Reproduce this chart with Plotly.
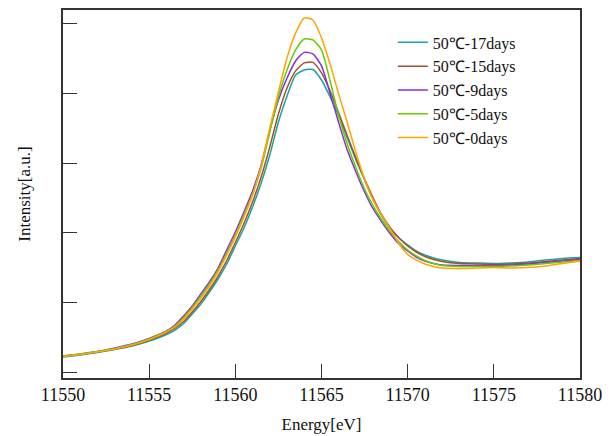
import plotly.graph_objects as go

energy = [11550, 11551, 11552, 11553, 11554, 11554.5, 11555, 11555.5, 11556,
          11556.5, 11557, 11557.5, 11558, 11558.5, 11559, 11559.5, 11560,
          11560.5, 11561, 11561.5, 11562, 11562.5, 11563, 11563.5, 11564,
          11564.5, 11565, 11565.5, 11566, 11566.5, 11567, 11567.5, 11568,
          11568.5, 11569, 11569.5, 11570, 11570.5, 11571, 11571.5,
          11572, 11573, 11574, 11575, 11576, 11577, 11578, 11579, 11580]

days17 = [0.216, 0.244, 0.280, 0.323, 0.374, 0.407, 0.445, 0.489, 0.539,
          0.603, 0.697, 0.833, 0.977, 1.149, 1.336, 1.552, 1.810,
          2.069, 2.371, 2.716, 3.118, 3.592, 3.966, 4.267, 4.339,
          4.346, 4.195, 3.951, 3.678, 3.362, 3.046, 2.759, 2.471,
          2.241, 2.055, 1.925, 1.825, 1.739, 1.681, 1.638,
          1.609, 1.573, 1.566, 1.559, 1.566, 1.580, 1.609, 1.631, 1.645]

days15 = [0.223, 0.251, 0.287, 0.330, 0.381, 0.417, 0.460, 0.507, 0.560,
          0.632, 0.726, 0.862, 1.013, 1.185, 1.379, 1.602, 1.861,
          2.134, 2.443, 2.802, 3.233, 3.707, 4.080, 4.325, 4.440,
          4.447, 4.296, 4.037, 3.721, 3.391, 3.075, 2.773, 2.500,
          2.256, 2.069, 1.925, 1.810, 1.724, 1.659, 1.616,
          1.588, 1.559, 1.552, 1.545, 1.552, 1.566, 1.588, 1.609, 1.631]

days9 = [0.230, 0.259, 0.295, 0.345, 0.402, 0.439, 0.481, 0.531, 0.589,
         0.675, 0.805, 0.948, 1.121, 1.293, 1.494, 1.753, 2.011,
         2.299, 2.601, 2.974, 3.477, 3.908, 4.224, 4.468, 4.591,
         4.569, 4.397, 4.000, 3.580, 3.185, 2.874, 2.586, 2.342,
         2.155, 1.983, 1.839, 1.739, 1.652, 1.595, 1.559,
         1.537, 1.530, 1.530, 1.530, 1.537, 1.552, 1.573, 1.595, 1.616]

days5 = [0.230, 0.259, 0.295, 0.338, 0.395, 0.432, 0.474, 0.524, 0.582,
         0.661, 0.783, 0.927, 1.092, 1.264, 1.466, 1.710, 1.968,
         2.256, 2.557, 2.931, 3.448, 3.951, 4.339, 4.626, 4.784,
         4.770, 4.626, 4.180, 3.680, 3.270, 2.930, 2.629, 2.385,
         2.184, 2.011, 1.868, 1.753, 1.667, 1.602, 1.559,
         1.530, 1.516, 1.516, 1.516, 1.523, 1.537, 1.559, 1.580, 1.602]

days0 = [0.223, 0.251, 0.287, 0.330, 0.388, 0.425, 0.467, 0.517, 0.575,
         0.647, 0.761, 0.905, 1.063, 1.236, 1.437, 1.681, 1.940,
         2.227, 2.543, 2.960, 3.506, 4.023, 4.511, 4.871, 5.086,
         5.057, 4.800, 4.420, 3.990, 3.580, 3.150, 2.770, 2.470,
         2.250, 2.050, 1.840, 1.690, 1.610, 1.552, 1.516,
         1.494, 1.487, 1.494, 1.501, 1.494, 1.501, 1.523, 1.559, 1.595]

series_names = ["50℃-17days", "50℃-15days", "50℃-9days", "50℃-5days", "50℃-0days"]
series_values = [days17, days15, days9, days5, days0]
series_colors = ["#1AA3A3", "#A0522D", "#8A2BE2", "#66CC00", "#FFA500"]

x_ticks = [11550, 11555, 11560, 11565, 11570, 11575, 11580]
y_ticks = [0, 1, 2, 3, 4, 5]

SERIF = "Liberation Serif"

fig = go.Figure()
for name, vals, col in zip(series_names, series_values, series_colors):
    fig.add_trace(go.Scatter(x=energy, y=vals, mode="lines", name=name,
                             line=dict(color=col, width=1.5, shape="spline", smoothing=0.6)))

# page has an 8px body margin, so the figure is sized to the visible area
fig.update_layout(
    width=608, height=428,
    margin=dict(l=55, r=36, t=2, b=58, autoexpand=False),
    paper_bgcolor="white", plot_bgcolor="white",
    font=dict(family=SERIF, size=17, color="#111"),
    legend=dict(x=0.638, y=0.958, xanchor="left", yanchor="top",
                bgcolor="rgba(0,0,0,0)", borderwidth=0,
                font=dict(family=SERIF, size=16, color="#111"),
                tracegroupgap=0, itemwidth=30),
    showlegend=True,
)
fig.update_xaxes(range=[11550, 11580], tickvals=x_ticks, tickformat="d",
                 ticks="inside", ticklen=14, automargin=False,
                 tickwidth=1.2, tickcolor="#333", showline=True, linecolor="#333",
                 linewidth=1.5, mirror=True, showgrid=False, zeroline=False,
                 title=dict(text="Energy[eV]", font=dict(family=SERIF, size=17), standoff=14),
                 tickfont=dict(family=SERIF, size=18))
fig.update_yaxes(range=[-0.086, 5.2], tickvals=y_ticks, ticks="inside", ticklen=14,
                 automargin=False,
                 tickwidth=1.2, tickcolor="#333", showline=True, linecolor="#333",
                 linewidth=1.5, mirror=True, showgrid=False, zeroline=False,
                 showticklabels=False,
                 title=dict(text="Intensity[a.u.]", font=dict(family=SERIF, size=17), standoff=26))

fig.write_html("out.html")
